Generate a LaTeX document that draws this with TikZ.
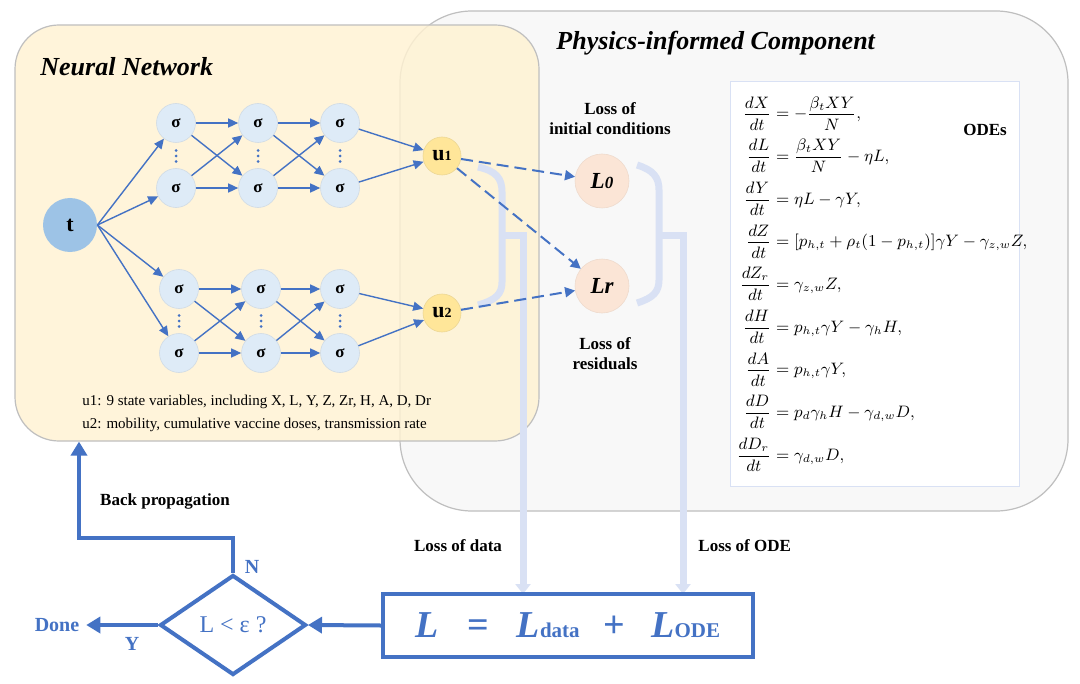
\documentclass[tikz,border=0pt]{standalone}
\usepackage{amsmath}
\usepackage{fontspec}
\setmainfont{Liberation Serif}
\usetikzlibrary{arrows.meta,shapes.geometric,positioning}
\definecolor{nnblue}{HTML}{4472C4}
\definecolor{sigfill}{HTML}{DEEBF7}
\definecolor{tfill}{HTML}{9DC3E6}
\definecolor{ufill}{HTML}{FFE699}
\definecolor{lfill}{HTML}{FBE5D6}
\definecolor{panelnn}{HTML}{FFF2D2}
\definecolor{panelpi}{HTML}{F8F8F8}
\definecolor{panelline}{HTML}{BFBFBF}
\definecolor{bracecol}{HTML}{D9E1F4}
\tikzset{
  neuron/.style={circle,fill=sigfill,draw=sigfill!85!gray,line width=0.3pt,minimum size=19.5pt,inner sep=0pt,font=\bfseries\fontsize{8.5}{9}\selectfont},
  outnode/.style={circle,fill=ufill,draw=ufill!85!gray,line width=0.3pt,minimum size=19pt,inner sep=0pt,font=\bfseries\fontsize{11}{11}\selectfont},
  lossnode/.style={circle,fill=lfill,draw=lfill!90!gray,line width=0.3pt,minimum size=27pt,inner sep=0pt,font=\bfseries\itshape\fontsize{11.5}{12}\selectfont},
  link/.style={nnblue,line width=0.7pt,-{Triangle[length=5pt,width=4.5pt]}},
  dlink/.style={nnblue,line width=1pt,dash pattern=on 6pt off 3pt,-{Triangle[length=5pt,width=5pt]}},
  brace/.style={bracecol,line width=3.5pt},
  bracearrow/.style={brace,-{Triangle[length=5pt,width=7.5pt]}},
  flow/.style={nnblue,line width=2pt,-{Triangle[length=7pt,width=8pt]}},
  panel/.style={rectangle,draw=panelline,line width=0.6pt},
  lbl/.style={font=\bfseries\fontsize{8.5}{10}\selectfont,align=center},
  blbl/.style={text=nnblue,font=\bfseries\fontsize{10}{11}\selectfont},
}
\begin{document}
\begin{tikzpicture}[x=0.5pt,y=-0.5pt]
\useasboundingbox[fill=white] (0,0) rectangle (1080,684);
% panels
\node[panel,fill=panelpi,rounded corners=36pt,minimum width=334pt,minimum height=250pt] (pi) at (734,261) {};
\node[panel,fill=panelnn,fill opacity=0.82,rounded corners=22pt,minimum width=262pt,minimum height=208pt] (nn) at (277,233) {};
\node[anchor=west,inner sep=0pt,font=\bfseries\itshape\fontsize{13}{14}\selectfont] at (40,67) {Neural Network};
\node[anchor=west,inner sep=0pt,font=\bfseries\itshape\fontsize{13}{14}\selectfont] at (556,43) {Physics-informed Component};
\draw[fill=white,draw=bracecol,line width=0.5pt] (730,82) rectangle (1019,486);
% network
\node[circle,fill=tfill,minimum size=27pt,inner sep=0pt,font=\bfseries\fontsize{11}{11}\selectfont] (t) at (70,225) {t};
\foreach \c/\x in {1/176,2/258,3/340} {
  \node[neuron] (a\c1) at (\x,123) {σ};
  \node[neuron] (a\c2) at (\x,188) {σ};
  \foreach \d in {-5.5,0,5.5} \fill[nnblue] (\x,156+\d) circle (0.75pt);
}
\foreach \c/\x in {1/179,2/261,3/340} {
  \node[neuron] (b\c1) at (\x,289) {σ};
  \node[neuron] (b\c2) at (\x,353) {σ};
  \foreach \d in {-5.5,0,5.5} \fill[nnblue] (\x,321+\d) circle (0.75pt);
}
\node[outnode] (u1) at (442,156) {u\raisebox{0.3pt}{\fontsize{7}{7}\selectfont 1}};
\node[outnode] (u2) at (442,313) {u\raisebox{0.3pt}{\fontsize{7}{7}\selectfont 2}};
\foreach \g in {a,b} {
  \draw[link] (t.east) -- (\g11);
  \draw[link] (t.east) -- (\g12);
  \foreach \c/\n in {1/2,2/3}
    \foreach \i in {1,2}
      \foreach \j in {1,2}
        \draw[link] (\g\c\i) -- (\g\n\j);
}
\draw[link] (a31) -- (u1);
\draw[link] (a32) -- (u1);
\draw[link] (b31) -- (u2);
\draw[link] (b32) -- (u2);
\node[anchor=west,inner sep=0pt,font=\fontsize{7.5}{9}\selectfont] at (82,402) {u1: 9 state variables, including X, L, Y, Z, Zr, H, A, D, Dr};
\node[anchor=west,inner sep=0pt,font=\fontsize{7.5}{9}\selectfont] at (82,425) {u2: mobility, cumulative vaccine doses, transmission rate};
% losses
\coordinate (datain) at (523,594);
\coordinate (odein) at (683,594);
\draw[brace] (478,167) .. controls (496,171) and (502,178) .. (502,192) -- (502,282) .. controls (502,294) and (496,300) .. (478,305);
\draw[bracearrow] (502,235) -| (datain);
\draw[brace] (637,165) .. controls (653,170) and (659,177) .. (659,190) -- (659,280) .. controls (659,292) and (653,298) .. (637,303);
\draw[bracearrow] (659,235) -| (odein);
\node[lossnode] (L0) at (602,181) {L\raisebox{0pt}{\fontsize{8.5}{9}\selectfont 0}};
\node[lossnode] (Lr) at (602,286) {Lr};
\draw[dlink] (u1) -- (L0);
\draw[dlink] (u1) -- (Lr);
\draw[dlink] (u2) -- (Lr);
\node[lbl] at (610,119) {Loss of\\initial conditions};
\node[lbl] at (605,354) {Loss of\\residuals};
\node[lbl] at (985,130) {ODEs};
\node[anchor=west,inner sep=0pt,scale=0.92,transform shape,font=\fontsize{9}{10}\selectfont] (odes) at (736,284) {\setlength{\jot}{4pt}$\begin{aligned}
\frac{dX}{dt}&=-\frac{\beta_tXY}{N},\\
\frac{dL}{dt}&=\frac{\beta_tXY}{N}-\eta L,\\
\frac{dY}{dt}&=\eta L-\gamma Y,\\
\frac{dZ}{dt}&=[p_{h,t}+\rho_t(1-p_{h,t})]\gamma Y-\gamma_{z,w}Z,\\
\frac{dZ_r}{dt}&=\gamma_{z,w}Z,\\
\frac{dH}{dt}&=p_{h,t}\gamma Y-\gamma_hH,\\
\frac{dA}{dt}&=p_{h,t}\gamma Y,\\
\frac{dD}{dt}&=p_d\gamma_hH-\gamma_{d,w}D,\\
\frac{dD_r}{dt}&=\gamma_{d,w}D,
\end{aligned}$};
\node[lbl] at (458,546) {Loss of data};
\node[lbl,anchor=west,inner sep=0pt] at (698,546) {Loss of ODE};
% training loop
\node[rectangle,draw=nnblue,line width=2pt,minimum width=185pt,minimum height=31.5pt,text=nnblue] (loss) at (568,625.5)
  {\fontsize{19}{20}\selectfont\bfseries\itshape L\hspace{14pt}\upshape=\hspace{14pt}\itshape L\upshape\fontsize{10.5}{11}\selectfont data\hspace{12pt}\fontsize{19}{20}\selectfont+\hspace{13pt}\itshape L\upshape\fontsize{10.5}{11}\selectfont ODE};
\node[diamond,draw=nnblue,line width=2pt,minimum width=73pt,minimum height=50pt,inner sep=0pt,text=nnblue,font=\fontsize{12}{13}\selectfont] (check) at (233,625) {L < ε ?};
\node[blbl] (done) at (57,625) {Done};
\coordinate (bp) at (79,538);
\draw[flow] (loss.west) -- (check.east);
\draw[flow] (check.west) -- (done.east);
\draw[flow] (check.north) |- (bp) -- (nn.south -| bp);
\node[blbl] at (252,567) {N};
\node[blbl] at (132,644) {Y};
\node[lbl] at (165,501) {Back propagation};
\end{tikzpicture}
\end{document}
